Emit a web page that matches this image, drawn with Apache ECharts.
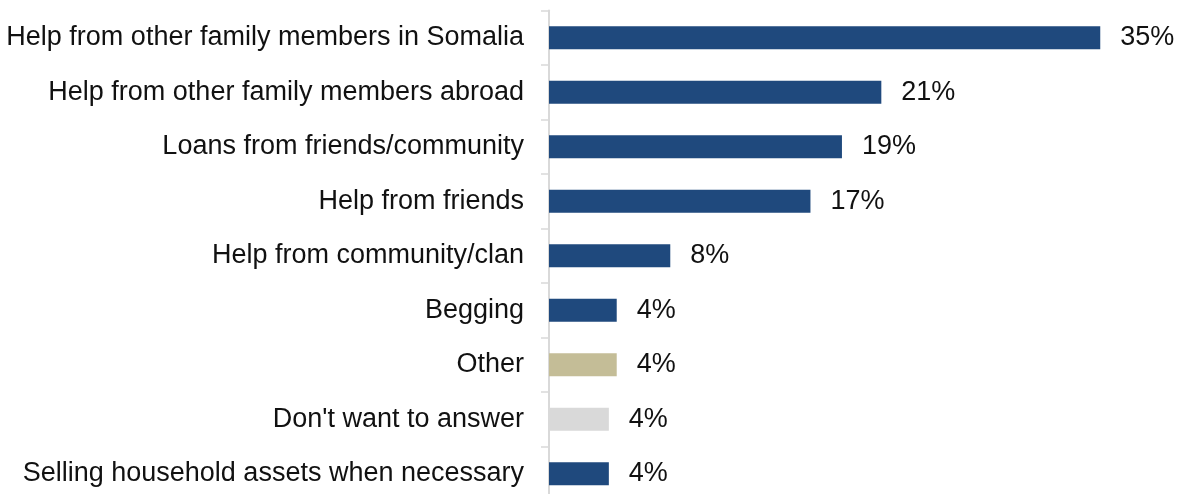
<!DOCTYPE html>
<html>
<head>
<meta charset="utf-8">
<script src="https://cdn.jsdelivr.net/npm/echarts@6/dist/echarts.min.js"></script>
<style>
  html, body { margin: 0; padding: 0; background: #ffffff; overflow: hidden; }
  #chart { width: 1184px; height: 520px; }
</style>
</head>
<body>
<div id="chart"></div>
<script>
// Coping strategies, share of respondents (%)
const categories = [
  'Help from other family members in Somalia',
  'Help from other family members abroad',
  'Loans from friends/community',
  'Help from friends',
  'Help from community/clan',
  'Begging',
  'Other',
  "Don't want to answer",
  'Selling household assets when necessary'
];
const values = [35, 21.1, 18.6, 16.6, 7.7, 4.3, 4.3, 3.8, 3.8];
const barColors = ['#1f497d', '#1f497d', '#1f497d', '#1f497d', '#1f497d', '#1f497d', '#c4bd97', '#d9d9d9', '#1f497d'];

const FONT = '"Liberation Sans", Arial, Helvetica, sans-serif';

const chart = echarts.init(document.getElementById('chart'), null, { renderer: 'canvas' });
chart.setOption({
  animation: false,
  backgroundColor: '#ffffff',
  // the last row runs slightly past the bottom edge of the visible area
  grid: { left: 549, right: 5, top: 10.5, height: 490.5, containLabel: false },
  xAxis: {
    type: 'value',
    min: 0,
    max: 40,
    show: false
  },
  yAxis: {
    type: 'category',
    inverse: true,
    data: categories,
    axisLine: { show: true, lineStyle: { color: '#d9d9d9', width: 2 } },
    axisTick: { show: true, length: 8, lineStyle: { color: '#d9d9d9', width: 1.5 } },
    axisLabel: { color: '#111111', fontSize: 27, fontFamily: FONT, margin: 25 }
  },
  series: [{
    type: 'bar',
    data: values.map((v, i) => ({ value: v, itemStyle: { color: barColors[i] } })),
    barWidth: 23,
    label: {
      show: true,
      position: 'right',
      distance: 20,
      color: '#111111',
      fontSize: 27,
      fontFamily: FONT,
      formatter: p => Math.round(p.value) + '%'
    }
  }]
});
</script>
</body>
</html>
